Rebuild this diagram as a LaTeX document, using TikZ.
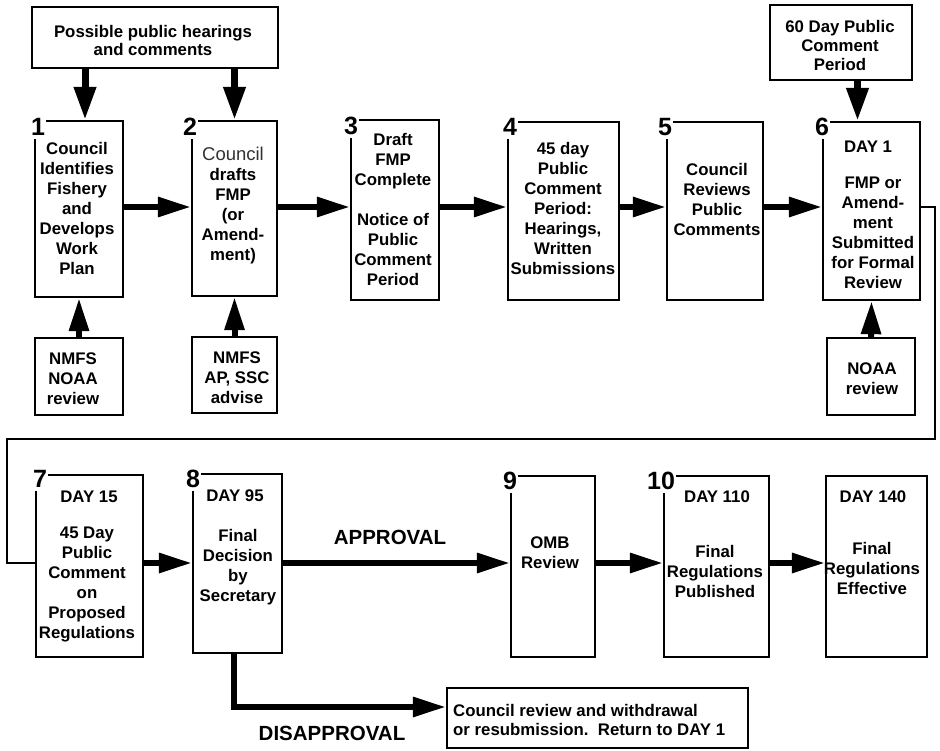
\documentclass[tikz,border=0pt]{standalone}
\usepackage{fontspec}
\setmainfont{Liberation Sans}
\usetikzlibrary{arrows.meta}
\tikzset{
  box/.style={draw, line width=2.3pt, inner sep=0pt},
  num/.style={font=\bfseries\fontsize{25}{25}\selectfont, fill=white, inner xsep=1pt, inner ysep=3pt},
  txt/.style={font=\bfseries\fontsize{16.8}{20}\selectfont, align=center, inner sep=0pt},
  lite/.style={font=\fontsize{18.5}{20}\selectfont, text=black!80, inner sep=0pt},
  big/.style={font=\bfseries\fontsize{20.5}{22}\selectfont, inner sep=0pt},
  arr/.style={line width=6pt, -{Triangle[length=33pt,width=19pt]}},
  varr/.style={line width=7pt, -{Triangle[length=33pt,width=21pt]}},
  loopline/.style={line width=2.2pt},
}
\begin{document}
\begin{tikzpicture}[x=1pt,y=-1pt]
\useasboundingbox[fill=white] (0,0) rectangle (940,751);
\coordinate (r1) at (0,207);
\coordinate (r2) at (0,563);
% top row boxes
\node[box, minimum width=246pt, minimum height=61pt] (top) at (155,37.5) {};
\node[box, minimum width=142pt, minimum height=75pt] (d60) at (841,42.5) {};
\node[box, minimum width=88pt, minimum height=176pt] (b1) at (79,209) {};
\node[box, minimum width=85pt, minimum height=175pt] (b2) at (234.5,208.5) {};
\node[box, minimum width=88pt, minimum height=180pt] (b3) at (395,210) {};
\node[box, minimum width=111pt, minimum height=178pt] (b4) at (563.5,211) {};
\node[box, minimum width=96pt, minimum height=178pt] (b5) at (715,211) {};
\node[box, minimum width=97pt, minimum height=178pt] (b6) at (871.5,211) {};
\node[box, minimum width=88pt, minimum height=77pt] (nm1) at (79,376.5) {};
\node[box, minimum width=85pt, minimum height=76pt] (nm2) at (234.5,375) {};
\node[box, minimum width=88pt, minimum height=77pt] (noaa) at (871,376.5) {};
% second row boxes
\node[box, minimum width=107pt, minimum height=182pt] (b7) at (89.5,566) {};
\node[box, minimum width=89pt, minimum height=179pt] (b8) at (237.5,563.5) {};
\node[box, minimum width=84pt, minimum height=181pt] (b9) at (553,566.5) {};
\node[box, minimum width=105pt, minimum height=181pt] (b10) at (716.5,566.5) {};
\node[box, minimum width=101pt, minimum height=181pt] (b11) at (876.5,566.5) {};
\node[box, minimum width=301pt, minimum height=60pt] (cr) at (597.5,718) {};
% step numbers
\node[num] (n1) at (38,127) {1};
\node[num] (n2) at (190,127) {2};
\node[num] (n3) at (351,126) {3};
\node[num] (n4) at (510,127) {4};
\node[num] (n5) at (665,127) {5};
\node[num] (n6) at (822,127) {6};
\node[num] (n7) at (40,479) {7};
\node[num] (n8) at (193,479) {8};
\node[num] (n9) at (510,481) {9};
\node[num] (n10) at (661,481) {10};
% texts
\node[txt] (ttop) at (153,40) {Possible public hearings\\[-2pt]and comments};
\node[txt] (td60) at (840,45) {60 Day Public\\[-1pt]Comment\\[-1pt]Period};
\node[txt] (t1) at (77,208) {Council\\Identifies\\Fishery\\and\\Develops\\Work\\Plan};
\node[lite] (t2a) at (233,154) {Council};
\node[txt] (t2) at (233,216) {drafts\\FMP\\(or\\Amend-\\ment)};
\node[txt] (t3) at (393,209) {Draft\\FMP\\Complete\\[20pt]Notice of\\Public\\Comment\\Period};
\node[txt] (t4) at (563,208) {45 day\\Public\\Comment\\Period:\\Hearings,\\Written\\Submissions};
\node[txt] (t5) at (717,199) {Council\\Reviews\\Public\\Comments};
\node[txt] (t6a) at (868,147) {DAY 1};
\node[txt] (t6) at (873,233) {FMP or\\Amend-\\ment\\Submitted\\for Formal\\Review};
\node[txt] (tnm1) at (73,379) {NMFS\\NOAA\\review};
\node[txt] (tnm2) at (237,378) {NMFS\\AP, SSC\\advise};
\node[txt] (tnoaa) at (872,379) {NOAA\\review};
\node[txt] (t7a) at (89,497) {DAY 15};
\node[txt] (t7) at (87,584) {45 Day\\Public\\Comment\\on\\Proposed\\Regulations};
\node[txt] (t8a) at (235,496) {DAY 95};
\node[txt] (t8) at (238,567) {Final\\Decision\\by\\Secretary};
\node[txt] (t9) at (550,553) {OMB\\Review};
\node[txt] (t10a) at (717,497) {DAY 110};
\node[txt] (t10) at (715,571) {Final\\Regulations\\Published};
\node[txt] (t11a) at (873,497) {DAY 140};
\node[txt] (t11) at (872,568) {Final\\Regulations\\Effective};
\node[txt, align=left, anchor=west] (tcr) at (453,720) {Council review and withdrawal\\[-1pt]or resubmission.\ \ Return to DAY 1};
\node[big] (lap) at (390,537) {APPROVAL};
\node[big] (ldis) at (332,733) {DISAPPROVAL};
% connectors, first row
\draw[varr] ([xshift=6pt]b1.north |- top.south) -- ([xshift=6pt]b1.north);
\draw[varr] (b2.north |- top.south) -- (b2.north);
\draw[varr] ([xshift=-14pt]b6.north |- d60.south) -- ([xshift=-14pt]b6.north);
\draw[arr] (nm1.north) -- (b1.south);
\draw[arr] (nm2.north) -- (b2.south);
\draw[arr] (noaa.north) -- (b6.south);
\draw[arr] (b1.east |- r1) -- (b2.west |- r1);
\draw[arr] (b2.east |- r1) -- (b3.west |- r1);
\draw[arr] (b3.east |- r1) -- (b4.west |- r1);
\draw[arr] (b4.east |- r1) -- (b5.west |- r1);
\draw[arr] (b5.east |- r1) -- (b6.west |- r1);
% loop to second row
\coordinate (lr) at (935,439);
\coordinate (ll) at (7,439);
\draw[loopline] (b6.east |- r1) -| (lr) -- (ll) |- (b7.west |- r2);
% second row
\draw[arr] (b7.east |- r2) -- (b8.west |- r2);
\draw[arr] (b8.east |- r2) -- (b9.west |- r2);
\draw[arr] (b9.east |- r2) -- (b10.west |- r2);
\draw[arr] (b10.east |- r2) -- (b11.west |- r2);
\draw[arr] ([xshift=-4pt]b8.south) |- ([yshift=11pt]cr.west);
\end{tikzpicture}
\end{document}
